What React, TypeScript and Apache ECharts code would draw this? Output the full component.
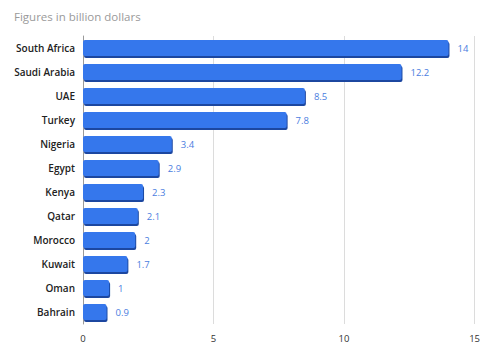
import React, { useEffect, useRef } from "react";
import * as echarts from "echarts";

const categories = ["South Africa", "Saudi Arabia", "UAE", "Turkey", "Nigeria", "Egypt", "Kenya", "Qatar", "Morocco", "Kuwait", "Oman", "Bahrain"];
const values = [14, 12.2, 8.5, 7.8, 3.4, 2.9, 2.3, 2.1, 2, 1.7, 1, 0.9];
const xTicks = [0, 5, 10, 15];

export default function App() {
  const ref = useRef<HTMLDivElement>(null);
  useEffect(() => {
    const chart = echarts.init(ref.current!, null, { renderer: "svg" });
    chart.setOption({
      animation: false,
      title: {
        text: "Figures in billion dollars",
        left: 9,
        top: 5,
        textStyle: { fontSize: 11.5, color: "#9a9a9a", fontWeight: "normal", fontFamily: "Open Sans" },
      },
      grid: { left: 83, right: 5, top: 36, bottom: 27, containLabel: false },
      xAxis: {
        type: "value",
        min: 0,
        max: 15,
        interval: 5,
        axisLine: { show: false },
        axisTick: { show: false },
        splitLine: { show: true, lineStyle: { color: "#dcdcdc", width: 1 } },
        axisLabel: {
          fontSize: 9.5,
          color: "#333",
          margin: 9,
          fontFamily: "Open Sans",
          formatter: (v: number) => (xTicks.includes(v) ? String(v) : ""),
        },
      },
      yAxis: {
        type: "category",
        data: categories,
        inverse: true,
        axisLine: { show: true, lineStyle: { color: "#9a9a9a" } },
        axisTick: { show: false },
        axisLabel: { fontSize: 10, color: "#222", fontWeight: 600, margin: 8, fontFamily: "Open Sans" },
      },
      series: [
        {
          type: "bar",
          data: values,
          barWidth: 16,
          itemStyle: {
            color: "#3677ec",
            borderRadius: 2,
            shadowColor: "#1f47a0",
            shadowOffsetY: 2,
            shadowOffsetX: 1,
            shadowBlur: 0,
          },
          label: {
            show: true,
            position: "right",
            distance: 9,
            fontSize: 9.5,
            color: "#4a7de0",
            fontFamily: "Open Sans",
          },
        },
      ],
    });
    return () => chart.dispose();
  }, []);
  return <div ref={ref} style={{ width: 483, height: 351, position: "absolute", left: 0, top: 0 }} />;
}
